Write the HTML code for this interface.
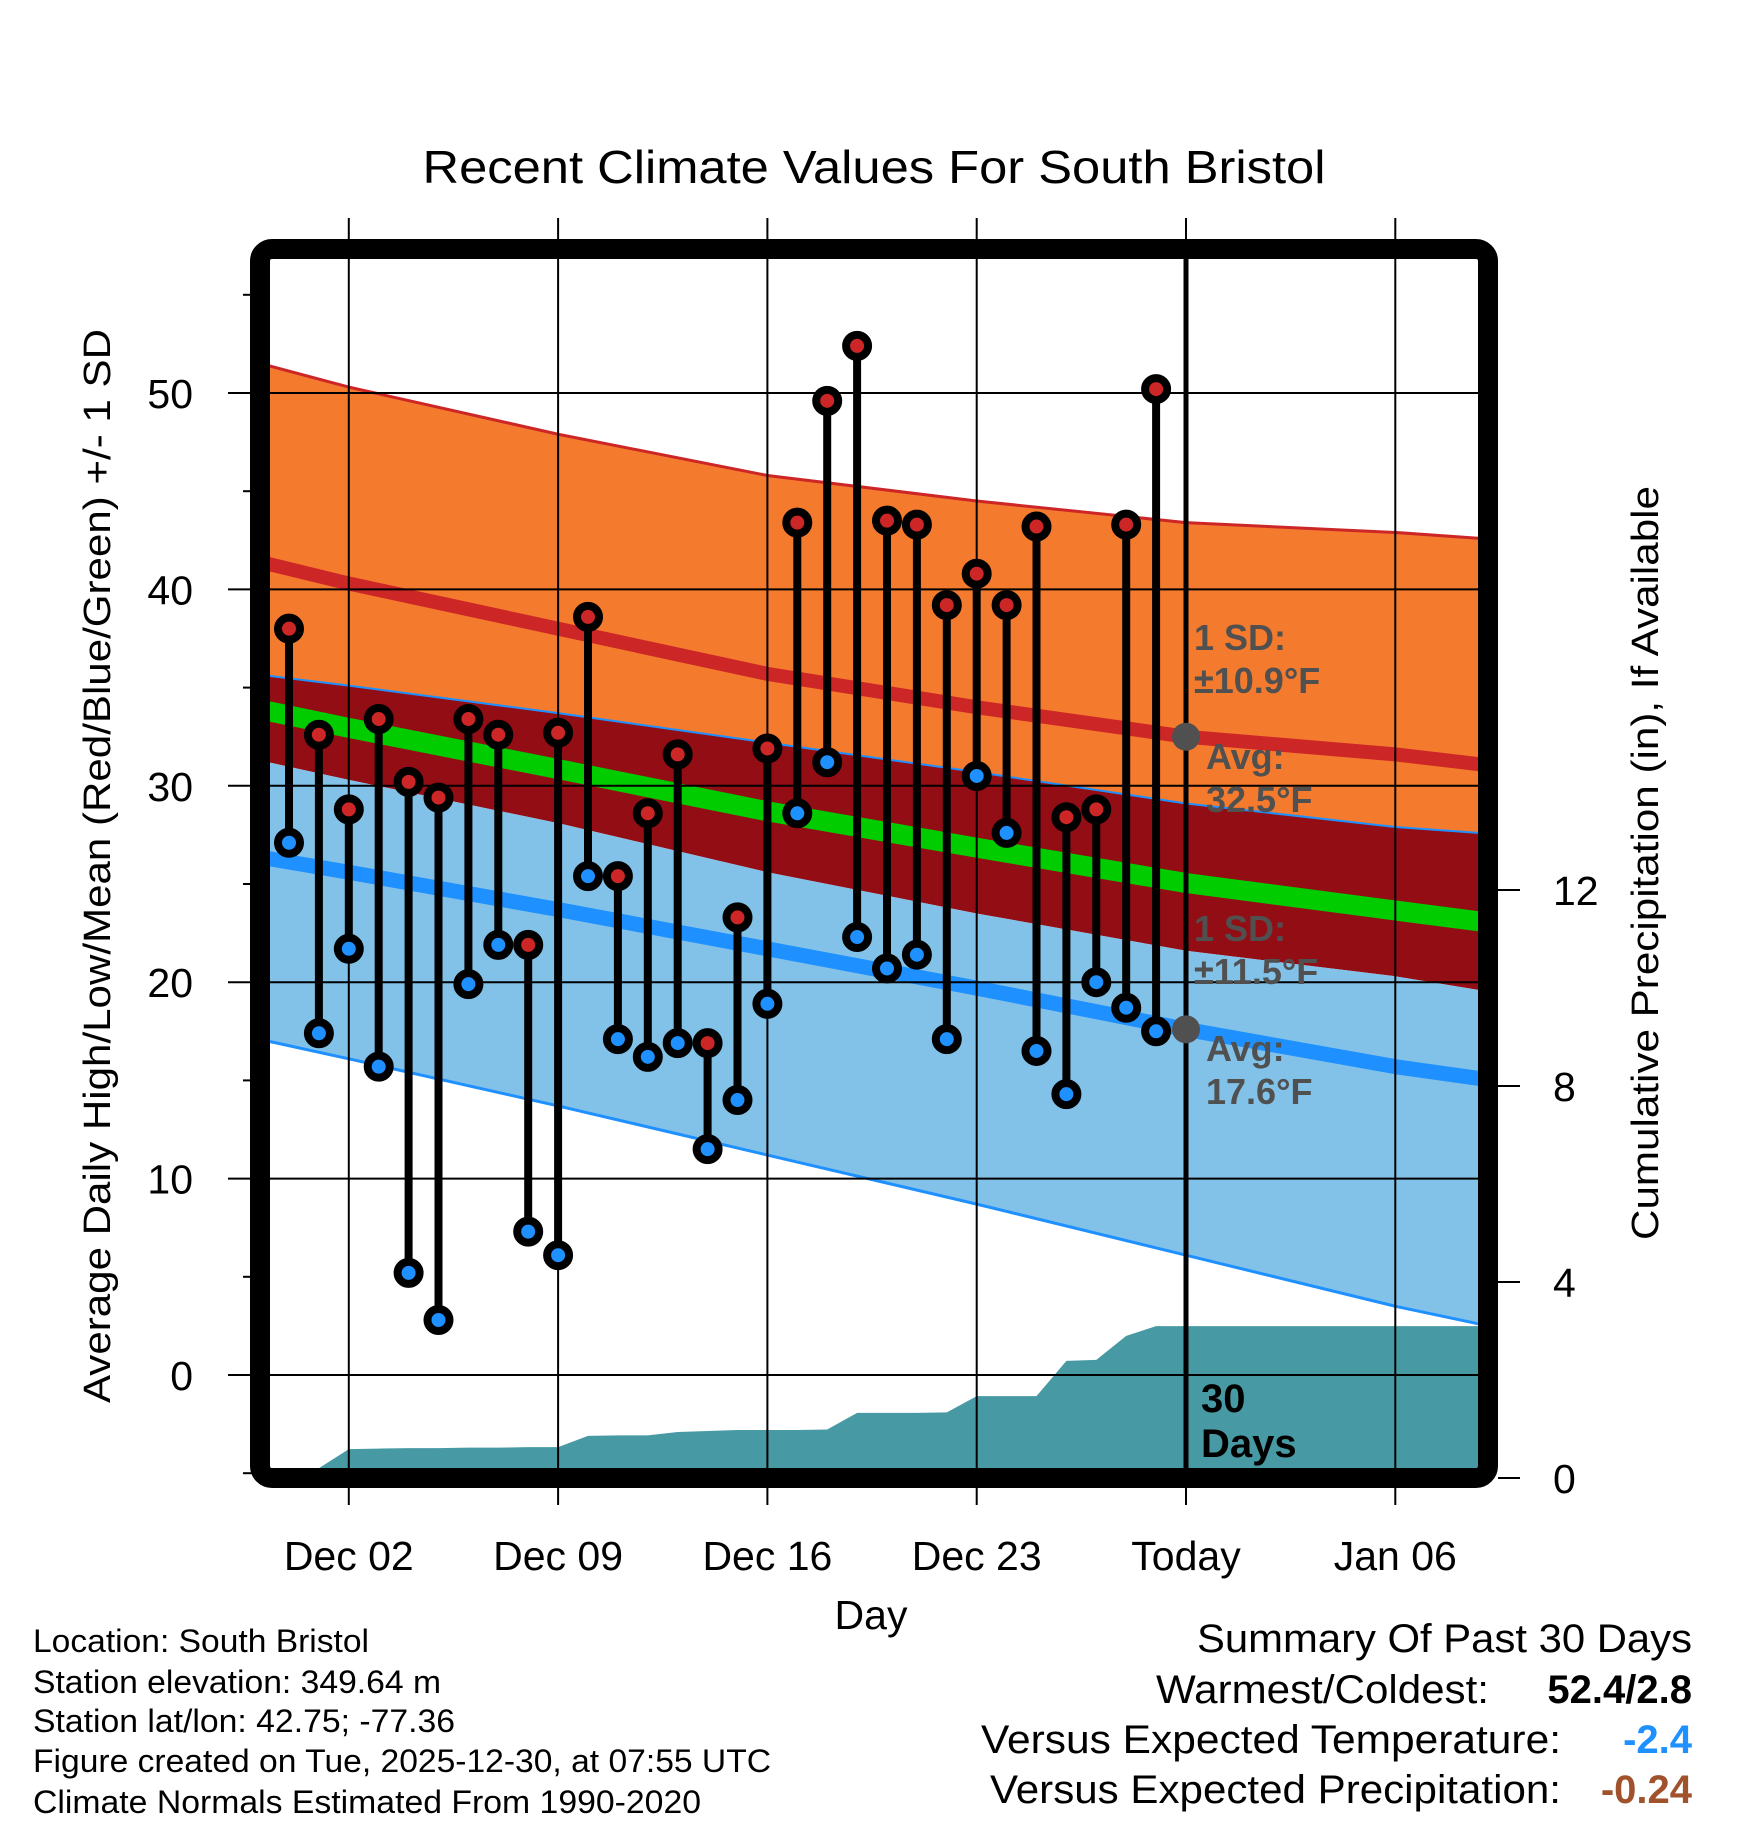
<!DOCTYPE html>
<html><head><meta charset="utf-8"><style>
html,body{margin:0;padding:0;background:#fff;}
svg{display:block;font-family:"Liberation Sans",Arial,sans-serif;}
</style></head><body>
<svg id="chart" width="1748" height="1828" viewBox="0 0 1748 1828" xmlns="http://www.w3.org/2000/svg">
<defs><clipPath id="inner"><rect x="270" y="260" width="1208" height="1208"/></clipPath></defs>
<g id="plot" clip-path="url(#inner)"></g>
<g id="grid"></g>
<g id="marks" clip-path="url(#inner)"></g>
<g id="axes"></g>
<text x="874" y="183" font-size="46" text-anchor="middle" textLength="903" lengthAdjust="spacingAndGlyphs">Recent Climate Values For South Bristol</text>
<text transform="translate(110,866) rotate(-90)" font-size="38" text-anchor="middle" textLength="1074" lengthAdjust="spacingAndGlyphs">Average Daily High/Low/Mean (Red/Blue/Green) +/- 1 SD</text>
<text transform="translate(1658,863) rotate(-90)" font-size="38" text-anchor="middle" textLength="754" lengthAdjust="spacingAndGlyphs">Cumulative Precipitation (in), If Available</text>
<text x="871" y="1629" font-size="41" text-anchor="middle">Day</text>
<g font-size="32">
<text x="33" y="1652" textLength="336" lengthAdjust="spacingAndGlyphs">Location: South Bristol</text>
<text x="33" y="1693" textLength="408" lengthAdjust="spacingAndGlyphs">Station elevation: 349.64 m</text>
<text x="33" y="1732" textLength="422" lengthAdjust="spacingAndGlyphs">Station lat/lon: 42.75; -77.36</text>
<text x="33" y="1772" textLength="738" lengthAdjust="spacingAndGlyphs">Figure created on Tue, 2025-12-30, at 07:55 UTC</text>
<text x="33" y="1813" textLength="668" lengthAdjust="spacingAndGlyphs">Climate Normals Estimated From 1990-2020</text>
</g>
<g font-size="40">
<text x="1197" y="1652" textLength="495" lengthAdjust="spacingAndGlyphs">Summary Of Past 30 Days</text>
<text x="1156" y="1703" textLength="333" lengthAdjust="spacingAndGlyphs">Warmest/Coldest:</text>
<text x="1692" y="1703" font-weight="bold" text-anchor="end">52.4/2.8</text>
<text x="981" y="1753" textLength="580" lengthAdjust="spacingAndGlyphs">Versus Expected Temperature:</text>
<text x="1692" y="1753" font-weight="bold" fill="#1E90FF" text-anchor="end">-2.4</text>
<text x="990" y="1803" textLength="571" lengthAdjust="spacingAndGlyphs">Versus Expected Precipitation:</text>
<text x="1692" y="1803" font-weight="bold" fill="#A0522D" text-anchor="end">-0.24</text>
</g>
</svg>
<script>
// ---- data ----
const dayIndex = [0,1,2,3,4,5,6,7,8,9,10,11,12,13,14,15,16,17,18,19,20,21,22,23,24,25,26,27,28,29];
const highs = [38.0,32.6,28.8,33.4,30.2,29.4,33.4,32.6,21.9,32.7,38.6,25.4,28.6,31.6,16.9,23.3,31.9,43.4,49.6,52.4,43.5,43.3,39.2,40.8,39.2,43.2,28.4,28.8,43.3,50.2];
const lows = [27.1,17.4,21.7,15.7,5.2,2.8,19.9,21.9,7.3,6.1,25.4,17.1,16.2,16.9,11.5,14.0,18.9,28.6,31.2,22.3,20.7,21.4,17.1,30.5,27.6,16.5,14.3,20.0,18.7,17.5];
const precipDays = [-1,0,1,2,3,4,5,6,7,8,9,10,11,12,13,14,15,16,17,18,19,20,21,22,23,24,25,26,27,28,29,40];
const precipCum = [0,0,0.2,0.59,0.6,0.61,0.61,0.62,0.62,0.63,0.63,0.86,0.87,0.87,0.94,0.96,0.98,0.98,0.98,0.99,1.33,1.33,1.33,1.34,1.67,1.67,1.67,2.39,2.41,2.9,3.1,3.1];
const normDays = [-0.7,2,9,16,23,30,37,39.8];
const highMean = [41.3,40.3,38.0,35.7,34.0,32.5,31.6,31.1];
const highSD = [10.1,10.0,9.9,10.1,10.5,10.9,11.3,11.5];
const lowMean = [26.3,25.6,23.7,21.7,19.7,17.6,15.7,15.1];
const lowSD = [9.3,9.5,10.0,10.5,11.0,11.5,12.2,12.5];
const xTickDays = [2,9,16,23,30,37];
const xTickLabels = ["Dec 02","Dec 09","Dec 16","Dec 23","Today","Jan 06"];
const yTicks = [0,10,20,30,40,50];
const yMinor = [-5,5,15,25,35,45,55];
const pTicks = [0,4,8,12];
const todayDay = 30;
const todayHighAvg = 32.5, todayHighSD = 10.9, todayLowAvg = 17.6, todayLowSD = 11.5;

// ---- scales ----
const X = d => 289 + 29.9 * d;
const Y = t => 1375 - 19.64 * t;
const P = p => 1478 - 49 * p;
const NS = "http://www.w3.org/2000/svg";
function mk(tag, attrs, parent){const e=document.createElementNS(NS,tag);for(const k in attrs)e.setAttribute(k,attrs[k]);parent.appendChild(e);return e;}
const plot=document.getElementById('plot'),grid=document.getElementById('grid'),marks=document.getElementById('marks'),axes=document.getElementById('axes');
const hi=highMean.map((v,i)=>v+highSD[i]), hl=highMean.map((v,i)=>v-highSD[i]);
const lh=lowMean.map((v,i)=>v+lowSD[i]), ll=lowMean.map((v,i)=>v-lowSD[i]);
const mean=highMean.map((v,i)=>(v+lowMean[i])/2);
const pts=arr=>arr.map((v,i)=>X(normDays[i])+','+Y(v));
const band=(top,bot)=>pts(top).concat(pts(bot).reverse()).join(' ');
let e;
e=mk('polygon',{points:band(hi,lh),fill:'#F47A2E'},plot);


e=mk('polygon',{points:band(lh,hl),fill:'#930D14'},plot);


e=mk('polygon',{points:band(hl,ll),fill:'#82C1E8'},plot);


// precip
const pp=precipDays.map((d,i)=>X(d)+','+P(precipCum[i]));
e=mk('polygon',{points:pp.join(' ')+' '+X(40)+',1500 '+X(-1)+',1500',fill:'#479AA3'},plot);


function line(arr,color,w,name){const l=mk('polyline',{points:pts(arr).join(' '),fill:'none',stroke:color,'stroke-width':w,'stroke-linejoin':'round'},plot);

}
line(hi,'#CD2626',3,'high-plus-sd-line');
line(highMean,'#CD2626',14,'mean-high-line');
line(lh,'#1E90FF',2,'low-plus-sd-line');
line(mean,'#00CC00',20,'mean-line');
line(lowMean,'#1E90FF',15,'mean-low-line');
line(ll,'#1E90FF',3,'low-minus-sd-line');
// grid
yTicks.forEach(t=>{const g=mk('line',{x1:228,x2:1478,y1:Y(t),y2:Y(t),stroke:'#000','stroke-width':2},grid);


const tx=mk('text',{x:193,y:Y(t)+15,'font-size':41,'text-anchor':'end'},axes);tx.textContent=t;

});
yMinor.forEach(t=>{const g=mk('line',{x1:243,x2:252,y1:Y(t),y2:Y(t),stroke:'#000','stroke-width':2},grid);

});
xTickDays.forEach((d,i)=>{const g=mk('line',{x1:X(d),x2:X(d),y1:218,y2:1505,stroke:'#000','stroke-width':2},grid);


const tx=mk('text',{x:X(d),y:1570,'font-size':41,'text-anchor':'middle'},axes);tx.textContent=xTickLabels[i];

});
pTicks.forEach(p=>{const g=mk('line',{x1:1498,x2:1520,y1:P(p),y2:P(p),stroke:'#000','stroke-width':2},axes);


const tx=mk('text',{x:1553,y:P(p)+15,'font-size':41},axes);tx.textContent=p;

});
// stems + markers
dayIndex.forEach((d,i)=>{const s=mk('line',{x1:X(d),x2:X(d),y1:Y(highs[i]),y2:Y(lows[i]),stroke:'#000','stroke-width':8},marks);

});
dayIndex.forEach((d,i)=>{const a=mk('circle',{cx:X(d),cy:Y(highs[i]),r:11,fill:'#CD2626',stroke:'#000','stroke-width':8},marks);


const b=mk('circle',{cx:X(d),cy:Y(lows[i]),r:11,fill:'#1E90FF',stroke:'#000','stroke-width':8},marks);

});
// today line & annotations
e=mk('line',{x1:X(todayDay),x2:X(todayDay),y1:255,y2:1470,stroke:'#000','stroke-width':5},axes);


[todayHighAvg,todayLowAvg].forEach(v=>{const c=mk('circle',{cx:X(todayDay),cy:Y(v),r:14,fill:'#505050'},axes);

});
function lab(x,y,t,col,name,fs){const tx=mk('text',{x:x,y:y,'font-size':fs||36,'font-weight':'bold',fill:col},axes);tx.textContent=t;

}
lab(1194,650,'1 SD:','#505050','high-sd-label');
lab(1194,693,'±'+todayHighSD.toFixed(1)+'°F','#505050','high-sd-value');
lab(1206,769,'Avg:','#505050','high-avg-label');
lab(1206,812,todayHighAvg.toFixed(1)+'°F','#505050','high-avg-value');
lab(1194,941,'1 SD:','#505050','low-sd-label');
lab(1194,984,'±'+todayLowSD.toFixed(1)+'°F','#505050','low-sd-value');
lab(1206,1061,'Avg:','#505050','low-avg-label');
lab(1206,1104,todayLowAvg.toFixed(1)+'°F','#505050','low-avg-value');
lab(1201,1412,'30','#000','days-count',40);
lab(1201,1457,'Days','#000','days-label',40);
// frame
e=mk('rect',{x:260,y:249,width:1228,height:1229,rx:12,fill:'none',stroke:'#000','stroke-width':20},axes);


</script>
</body></html>
